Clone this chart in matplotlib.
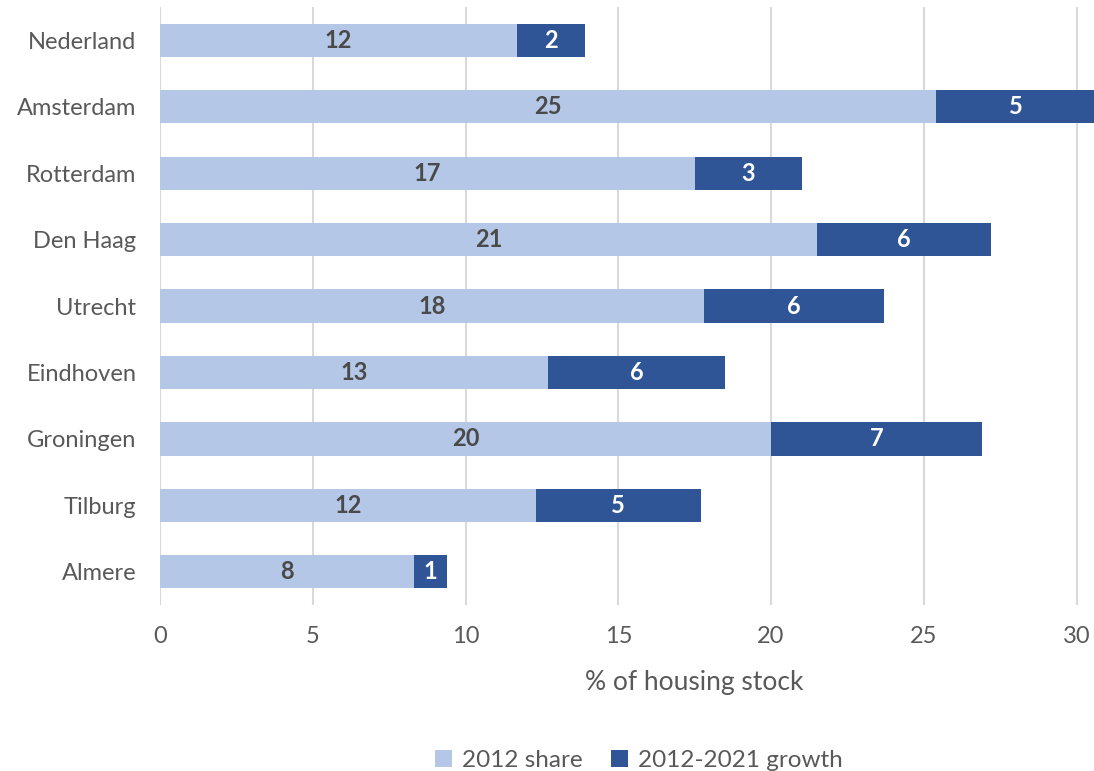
import matplotlib.pyplot as plt
import numpy as np

plt.rcParams['font.family'] = ['Lato', 'DejaVu Sans']

cities = ['Nederland', 'Amsterdam', 'Rotterdam', 'Den Haag', 'Utrecht',
          'Eindhoven', 'Groningen', 'Tilburg', 'Almere']
share_2012 = [11.7, 25.4, 17.5, 21.5, 17.8, 12.7, 20.0, 12.3, 8.3]
growth = [2.2, 5.2, 3.5, 5.7, 5.9, 5.8, 6.9, 5.4, 1.1]
share_labels = [12, 25, 17, 21, 18, 13, 20, 12, 8]
growth_labels = [2, 5, 3, 6, 6, 6, 7, 5, 1]

LIGHT = '#B4C7E7'
DARK = '#2F5597'

fig = plt.figure(figsize=(10.94, 7.71), dpi=100)
ax = fig.add_axes([160 / 1094, 1 - 605 / 771, 1 - 160 / 1094, 598 / 771])

y = np.arange(len(cities))
ax.barh(y, share_2012, height=0.5, color=LIGHT, label='2012 share', zorder=3)
ax.barh(y, growth, left=share_2012, height=0.5, color=DARK, label='2012-2021 growth', zorder=3)

for i in range(len(cities)):
    ax.text(share_2012[i] / 2, y[i], str(share_labels[i]), ha='center', va='center',
            fontsize=17, fontweight='bold', color='#4a4a4a', zorder=4)
    ax.text(share_2012[i] + growth[i] / 2, y[i], str(growth_labels[i]), ha='center', va='center',
            fontsize=17, fontweight='bold', color='white', zorder=4)

ax.set_xlim(0, 30.57)
ax.set_ylim(len(cities) - 0.5, -0.5)
ax.set_xticks(np.arange(0, 31, 5))
ax.set_yticks(y)
ax.set_yticklabels(cities)
ax.tick_params(axis='both', length=0, labelsize=17, labelcolor='#595959')
ax.tick_params(axis='x', pad=15)
ax.tick_params(axis='y', pad=17)
ax.grid(axis='x', color='#d9d9d9', linewidth=1.5, zorder=0)
for s in ax.spines.values():
    s.set_visible(False)

ax.set_xlabel('% of housing stock', fontsize=19, color='#595959', va='center')
ax.xaxis.set_label_coords(0.572, -0.129)
fig.legend(loc='lower center', bbox_to_anchor=(0.584, -0.028), ncol=2, frameon=False,
           fontsize=17.5, labelcolor='#595959', handlelength=0.7, handleheight=0.7,
           handletextpad=0.4, columnspacing=1.2)

fig.savefig('out.png', dpi=100)
